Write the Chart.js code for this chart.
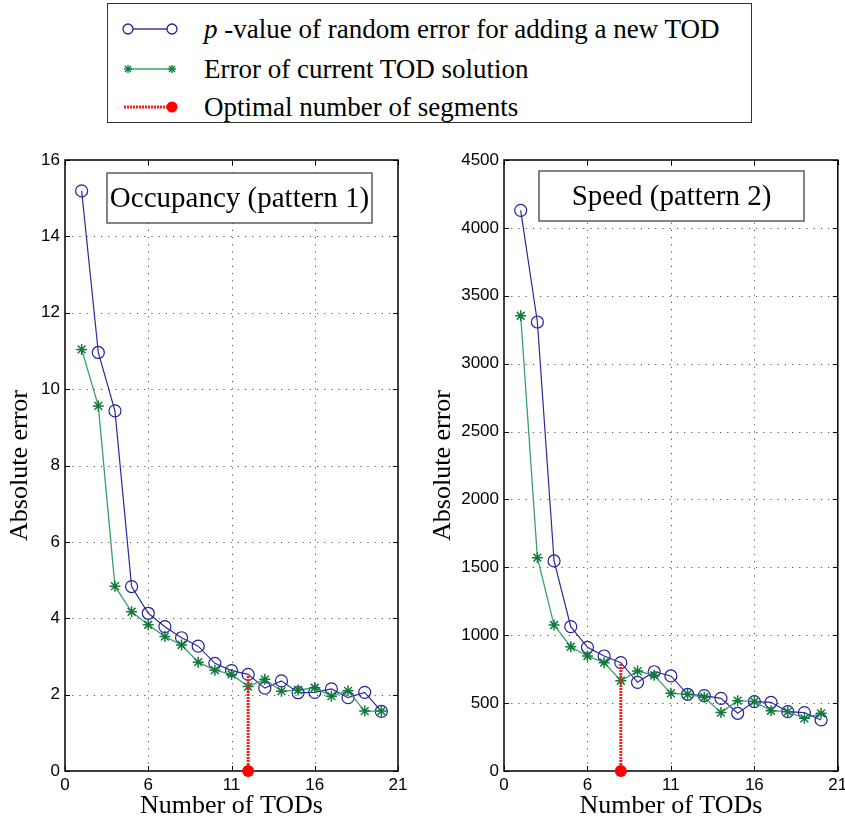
<!DOCTYPE html>
<html>
<head>
<meta charset="utf-8">
<script src="https://cdn.jsdelivr.net/npm/chart.js@4.4.0/dist/chart.umd.min.js"></script>
<style>
body { margin:0; background:#fff; width:845px; height:822px; position:relative; overflow:hidden; }
#legend { position:absolute; left:107px; top:3px; width:645px; height:120px; border:1.5px solid #333; box-sizing:border-box;
  font-family:"Liberation Serif", serif; font-size:27px; color:#000; }
.row { position:absolute; left:14px; height:30px; display:flex; align-items:center; white-space:nowrap; }
.row svg { margin-right:26px; }
#occ { position:absolute; left:0; top:140px; }
#speed { position:absolute; left:420px; top:140px; }
</style>
</head>
<body>
<div id="legend">
  <div class="row" style="top:10px">
    <svg width="56" height="20"><line x1="6" y1="10" x2="50" y2="10" stroke="#3a3aa0" stroke-width="1.5"/>
      <circle cx="6" cy="10" r="5" fill="#fff" stroke="#22229a" stroke-width="1.3"/><circle cx="50" cy="10" r="5" fill="#fff" stroke="#22229a" stroke-width="1.3"/></svg>
    <span><i>p</i> -value of random error for adding a new TOD</span>
  </div>
  <div class="row" style="top:50px">
    <svg width="56" height="20"><line x1="6" y1="10" x2="50" y2="10" stroke="#3aa066" stroke-width="1.5"/>
      <g stroke="#117a3a" stroke-width="1.4"><line x1="2" y1="10" x2="10" y2="10"/><line x1="6" y1="6" x2="6" y2="14"/><line x1="3" y1="7" x2="9" y2="13"/><line x1="9" y1="7" x2="3" y2="13"/>
      <line x1="46" y1="10" x2="54" y2="10"/><line x1="50" y1="6" x2="50" y2="14"/><line x1="47" y1="7" x2="53" y2="13"/><line x1="53" y1="7" x2="47" y2="13"/></g></svg>
    <span>Error of current TOD solution</span>
  </div>
  <div class="row" style="top:88px">
    <svg width="56" height="20"><line x1="2" y1="10" x2="50" y2="10" stroke="#ff1a1a" stroke-width="3" stroke-dasharray="2 1"/>
      <circle cx="50" cy="10" r="5.5" fill="#ff0000"/></svg>
    <span>Optimal number of segments</span>
  </div>
</div>
<canvas id="occ" width="420" height="682"></canvas>
<canvas id="speed" width="425" height="682"></canvas>
<script>
// number of TODs on the x axis
var todCounts = [2, 3, 4, 5, 6, 7, 8, 9, 10, 11, 12, 13, 14, 15, 16, 17, 18, 19, 20];
var xTickValues = [1, 6, 11, 16, 21];
var xTickLabels = ['0', '6', '11', '16', '21'];

// occupancy (pattern 1)
var occPValue = [15.19, 10.96, 9.43, 4.83, 4.13, 3.78, 3.49, 3.27, 2.82, 2.63, 2.53, 2.17, 2.36, 2.05, 2.06, 2.15, 1.92, 2.06, 1.56];
var occError  = [11.04, 9.56, 4.84, 4.17, 3.83, 3.52, 3.30, 2.85, 2.64, 2.53, 2.21, 2.40, 2.09, 2.12, 2.18, 1.96, 2.10, 1.57, 1.57];
var occOptimal = 12;

// speed (pattern 2)
var speedPValue = [4129, 3307, 1547, 1063, 911, 847, 798, 653, 731, 700, 565, 555, 535, 425, 511, 506, 437, 430, 376];
var speedError  = [3353, 1571, 1075, 915, 847, 798, 665, 736, 705, 572, 565, 543, 430, 518, 511, 444, 437, 388, 425];
var speedOptimal = 8;

function toPoints(ys) {
    return todCounts.map(function (x, i) { return { x: x, y: ys[i] }; });
}

var framePlugin = {
    id: 'frame',
    beforeDatasetsDraw: function (chart) {
        var ctx = chart.ctx, a = chart.chartArea;
        var xs = chart.scales.x, ys = chart.scales.y;
        ctx.save();
        // dotted grid
        ctx.strokeStyle = '#555';
        ctx.lineWidth = 1;
        ctx.setLineDash([1.2, 6]);
        xs.ticks.forEach(function (t) {
            var px = Math.round(xs.getPixelForValue(t.value)) + 0.5;
            if (px <= a.left + 2 || px >= a.right - 2) return;
            ctx.beginPath(); ctx.moveTo(px, a.bottom); ctx.lineTo(px, a.top); ctx.stroke();
        });
        ys.ticks.forEach(function (t) {
            var py = Math.round(ys.getPixelForValue(t.value)) + 0.5;
            if (py <= a.top + 2 || py >= a.bottom - 2) return;
            ctx.beginPath(); ctx.moveTo(a.left, py); ctx.lineTo(a.right, py); ctx.stroke();
        });
        ctx.setLineDash([]);
        // inward tick marks
        ctx.strokeStyle = '#000';
        ctx.lineWidth = 1;
        xs.ticks.forEach(function (t) {
            var px = Math.round(xs.getPixelForValue(t.value)) + 0.5;
            ctx.beginPath(); ctx.moveTo(px, a.bottom); ctx.lineTo(px, a.bottom - 5);
            ctx.moveTo(px, a.top); ctx.lineTo(px, a.top + 5); ctx.stroke();
        });
        ys.ticks.forEach(function (t) {
            var py = Math.round(ys.getPixelForValue(t.value)) + 0.5;
            ctx.beginPath(); ctx.moveTo(a.left, py); ctx.lineTo(a.left + 5, py);
            ctx.moveTo(a.right, py); ctx.lineTo(a.right - 5, py); ctx.stroke();
        });
        // frame
        ctx.lineWidth = 1.5;
        ctx.strokeRect(a.left, a.top, a.right - a.left, a.bottom - a.top);
        ctx.restore();
    },
    afterDraw: function (chart, args, opts) {
        var ctx = chart.ctx, a = chart.chartArea;
        var bx = a.left + opts.boxX, by = a.top + opts.boxY;
        ctx.save();
        ctx.fillStyle = '#fff';
        ctx.fillRect(bx, by, 265, 50);
        ctx.strokeStyle = '#444';
        ctx.lineWidth = 1.3;
        ctx.strokeRect(bx, by, 265, 50);
        ctx.fillStyle = '#000';
        ctx.font = '29px "Liberation Serif"';
        ctx.textAlign = 'center';
        ctx.textBaseline = 'middle';
        ctx.fillText(opts.text, bx + 132.5, by + 26);
        ctx.restore();
    }
};

function makeChart(id, pValue, error, optimal, yMax, yStep, yWidth, padRight, boxX, boxY, titleText, yTitlePad) {
    var optIdx = todCounts.indexOf(optimal);
    return new Chart(document.getElementById(id).getContext('2d'), {
        type: 'line',
        data: {
            datasets: [
                {
                    label: 'Optimal number of segments',
                    data: [{ x: optimal, y: 0 }, { x: optimal, y: pValue[optIdx] }],
                    borderColor: '#ff1a1a',
                    borderWidth: 3,
                    borderDash: [2, 1],
                    pointRadius: [6, 0],
                    pointBackgroundColor: '#ff0000',
                    pointBorderWidth: 0,
                    clip: false
                },
                {
                    label: 'Error of current TOD solution',
                    data: toPoints(error),
                    borderColor: '#3aa066',
                    borderWidth: 1.3,
                    pointStyle: 'star',
                    pointRadius: 5.5,
                    pointBorderColor: '#117a3a',
                    pointBorderWidth: 1.5,
                    pointBackgroundColor: '#117a3a'
                },
                {
                    label: 'p-value of random error for adding a new TOD',
                    data: toPoints(pValue),
                    borderColor: '#2a2a9a',
                    borderWidth: 1.2,
                    pointStyle: 'circle',
                    pointRadius: 6,
                    pointBorderColor: '#22229a',
                    pointBorderWidth: 1.2,
                    pointBackgroundColor: 'rgba(255,255,255,0)'
                }
            ]
        },
        options: {
            responsive: false,
            animation: false,
            layout: { padding: { top: 20, right: padRight, left: 0, bottom: 0 } },
            plugins: {
                legend: { display: false },
                tooltip: { enabled: false },
                frame: { text: titleText, boxX: boxX, boxY: boxY }
            },
            scales: {
                x: {
                    type: 'linear',
                    min: 1,
                    max: 21,
                    afterBuildTicks: function (s) { s.ticks = xTickValues.map(function (v) { return { value: v }; }); },
                    afterFit: function (s) { s.height = 51; s.paddingLeft = 0; s.paddingRight = 0; },
                    grid: { display: false, drawTicks: false, tickLength: 0 },
                    border: { display: false },
                    ticks: {
                        padding: 4,
                        maxRotation: 0,
                        color: '#000',
                        font: { family: '"Liberation Sans"', size: 17 },
                        callback: function (v) { return xTickLabels[xTickValues.indexOf(v)]; }
                    },
                    title: { display: true, text: 'Number of TODs', color: '#000',
                        font: { family: '"Liberation Serif"', size: 26 }, padding: { top: 0, bottom: 0 } }
                },
                y: {
                    min: 0,
                    max: yMax,
                    afterFit: function (s) { s.width = yWidth; },
                    grid: { display: false, drawTicks: false, tickLength: 0 },
                    border: { display: false },
                    ticks: {
                        stepSize: yStep,
                        padding: 5,
                        color: '#000',
                        font: { family: '"Liberation Sans"', size: 17 },
                        callback: function (v) { return String(v); }
                    },
                    title: { display: true, text: 'Absolute error', color: '#000',
                        font: { family: '"Liberation Serif"', size: 26 }, padding: { top: yTitlePad, bottom: 0 } }
                }
            }
        },
        plugins: [framePlugin]
    });
}

makeChart('occ', occPValue, occError, occOptimal, 16, 2, 65, 22, 42, 13, 'Occupancy (pattern 1)', 5);
makeChart('speed', speedPValue, speedError, speedOptimal, 4500, 500, 84, 7, 35, 11, 'Speed (pattern 2)', 8);
</script>
</body>
</html>
